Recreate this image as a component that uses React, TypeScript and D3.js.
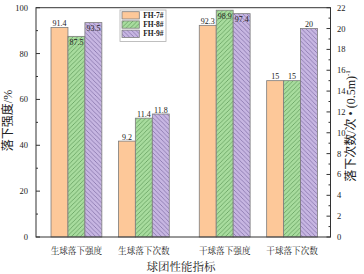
import React from "react";
import * as d3 from "d3";

// ---- data ----
const categories = ["生球落下强度", "生球落下次数", "干球落下强度", "干球落下次数"];
const categoryPos = [1, 2, 3.2, 4.2];
const categoryAxis = ["left", "right", "left", "right"];
const seriesNames = ["FH-7#", "FH-8#", "FH-9#"];
const fh7 = [91.4, 9.2, 92.3, 15];
const fh8 = [87.5, 11.4, 98.9, 15];
const fh9 = [93.5, 11.8, 97.4, 20];
const leftTicks = [0, 20, 40, 60, 80, 100];
const rightTicks = [0, 2, 4, 6, 8, 10, 12, 14, 16, 18, 20, 22];

const W = 364, H = 274;
const M = { left: 36, right: 330.5, top: 7.7, bottom: 237 };
const FONT = "'Liberation Serif', 'Times New Roman', 'Noto Sans CJK SC', serif";
const CJK = "'Noto Serif CJK SC', 'Noto Sans CJK SC', serif";

const fills = ["#FDC899", "#A8DC9E", "#C7B6E2"];
const hatchStroke = ["", "#4E8A4A", "#6F5C96"];
const edge = "#7d7d7d";
// label placed inside the bar top (to avoid frame collision) for these
const labelInside = [
  [false, false, false, false],
  [true, false, true, false],
  [true, false, true, false],
];

export default function App() {
  const series = [fh7, fh8, fh9];
  const x = d3.scaleLinear().domain([0.4, 4.77]).range([M.left, M.right]);
  const yL = d3.scaleLinear().domain([0, 100]).range([M.bottom, M.top]);
  const yR = d3.scaleLinear().domain([0, 22]).range([M.bottom, M.top]);
  const bw = 0.2515;
  const bwPx = x(bw) - x(0);

  const leftMinor = d3.range(10, 100, 20);
  const rightMinor = d3.range(1, 22, 2);

  return (
    <div style={{ position: "absolute", left: 0, top: 0 }}>
      <svg width={W} height={H} style={{ display: "block", background: "#fff" }}>
        <defs>
          <pattern id="hatch1" patternUnits="userSpaceOnUse" width={4.4} height={4.4}>
            <rect width={4.4} height={4.4} fill={fills[1]} />
            <path d="M-1,1 L1,-1 M0,4.4 L4.4,0 M3.4,5.4 L5.4,3.4" stroke={hatchStroke[1]} strokeWidth={0.6} />
          </pattern>
          <pattern id="hatch2" patternUnits="userSpaceOnUse" width={4.4} height={4.4}>
            <rect width={4.4} height={4.4} fill={fills[2]} />
            <path d="M-1,3.4 L1,5.4 M0,0 L4.4,4.4 M3.4,-1 L5.4,1" stroke={hatchStroke[2]} strokeWidth={0.6} />
          </pattern>
        </defs>

        {/* bars */}
        {series.map((vals, si) =>
          vals.map((v, ci) => {
            const y = categoryAxis[ci] === "left" ? yL : yR;
            const cx = categoryPos[ci] + (si - 1) * bw;
            const x0 = x(cx - bw / 2);
            const top = y(v);
            const fill = si === 0 ? fills[0] : `url(#hatch${si})`;
            const inside = labelInside[si][ci];
            return (
              <g key={`${si}-${ci}`}>
                <rect x={x0} y={top} width={bwPx} height={M.bottom - top}
                  fill={fill} stroke={edge} strokeWidth={0.8} />
                <text x={x(cx)} y={inside ? top + 8.5 : top - 1.5} textAnchor="middle"
                  fontFamily={FONT} fontSize={8} fill="#222">{v}</text>
              </g>
            );
          })
        )}

        {/* frame */}
        <rect x={M.left} y={M.top} width={M.right - M.left} height={M.bottom - M.top}
          fill="none" stroke="#333" strokeWidth={1} />

        {/* left axis ticks */}
        {leftTicks.map((t) => (
          <g key={`lt${t}`}>
            <line x1={M.left} x2={M.left + 4} y1={yL(t)} y2={yL(t)} stroke="#333" strokeWidth={1} />
            <text x={M.left - 8} y={yL(t) + 3} textAnchor="end" fontFamily={FONT} fontSize={8.5} fill="#222">{t}</text>
          </g>
        ))}
        {leftMinor.map((t) => (
          <line key={`lm${t}`} x1={M.left} x2={M.left + 2} y1={yL(t)} y2={yL(t)} stroke="#333" strokeWidth={1} />
        ))}

        {/* right axis ticks */}
        {rightTicks.map((t) => (
          <g key={`rt${t}`}>
            <line x1={M.right} x2={M.right - 4} y1={yR(t)} y2={yR(t)} stroke="#333" strokeWidth={1} />
            <text x={M.right + 6.5} y={yR(t) + 3} textAnchor="start" fontFamily={FONT} fontSize={8.5} fill="#222">{t}</text>
          </g>
        ))}
        {rightMinor.map((t) => (
          <line key={`rm${t}`} x1={M.right} x2={M.right - 2} y1={yR(t)} y2={yR(t)} stroke="#333" strokeWidth={1} />
        ))}

        {/* category labels */}
        {categories.map((c, i) => (
          <text key={c} x={x(categoryPos[i])} y={253.5} textAnchor="middle"
            fontFamily={CJK} fontSize={8.6} fill="#222">{c}</text>
        ))}

        {/* axis titles */}
        <text x={181} y={270.5} textAnchor="middle" fontFamily={CJK} fontSize={11.5} fill="#222">球团性能指标</text>
        <text transform="translate(11.5,120.5) rotate(-90)" textAnchor="middle" fontFamily={FONT} fontSize={12} fill="#222">落下强度/%</text>
        <text transform="translate(355,126) rotate(-90)" textAnchor="middle" fontFamily={FONT} fontSize={12} fill="#222">
          落下次数/次 • (0.5m)<tspan fontSize={7} dy={-5}>-1</tspan>
        </text>

        {/* legend */}
        <rect x={120} y={10} width={46} height={31.5} fill="#fff" stroke="#b0b0b0" strokeWidth={0.8} />
        {seriesNames.map((n, i) => (
          <g key={n}>
            <rect x={122} y={11.7 + i * 9.2} width={17.3} height={7.3}
              fill={i === 0 ? fills[0] : `url(#hatch${i})`} stroke={edge} strokeWidth={0.8} />
            <text x={143.2} y={18 + i * 9.2} fontFamily={FONT} fontSize={7.5} fontWeight="bold" fill="#222">{n}</text>
          </g>
        ))}
      </svg>
    </div>
  );
}
